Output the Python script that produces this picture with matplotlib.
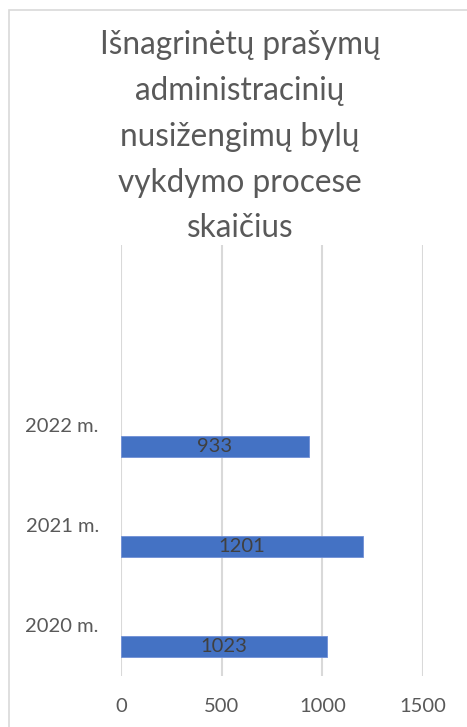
import numpy as np
import matplotlib.pyplot as plt
from matplotlib.patches import Rectangle

years = ["2020 m.", "2021 m.", "2022 m."]
values = [1023, 1201, 933]
xticks = [0, 500, 1000, 1500]
title = "Išnagrinėtų prašymų\nadministracinių\nnusižengimų bylų\nvykdymo procese\nskaičius"

plt.rcParams['font.family'] = ['Lato', 'DejaVu Sans']
txt = '#595959'

fig = plt.figure(figsize=(4.67, 7.27), dpi=100)
ax = fig.add_axes([121 / 467, 51 / 727, 302 / 467, 431 / 727])

pos = np.arange(len(years))
bars = ax.barh(pos, values, height=0.21, color='#4472C4', edgecolor='#6F8FD6', linewidth=0.6, zorder=3)
for b, v in zip(bars, values):
    ax.text(b.get_x() + b.get_width() / 2, b.get_y() + b.get_height() / 2, str(v),
            ha='center', va='center', fontsize=14.5, color='#404040', zorder=4)

ax.set_xlim(0, 1500)
ax.set_ylim(-0.3, 4.015)
ax.set_xticks(xticks)
ax.set_xticklabels([str(t) for t in xticks])
ax.set_yticks(pos + 0.21)
ax.set_yticklabels(years)
ax.tick_params(axis='both', length=0, labelsize=14.5, labelcolor=txt)
ax.tick_params(axis='x', pad=16)
ax.tick_params(axis='y', pad=16)
ax.grid(axis='x', color='#D9D9D9', linewidth=1.5, zorder=0)
for s in ax.spines.values():
    s.set_visible(False)

fig.text(240 / 467, 1 - 30 / 727, title, ha='center', va='top', fontsize=22.7,
         color=txt, linespacing=1.66)

fig.patches.append(Rectangle((9 / 467, -0.1), 1.2, 1.1 + (1 - 10 / 727) - 1,
                             transform=fig.transFigure, fill=False,
                             edgecolor='#D9D9D9', linewidth=1.2))

fig.savefig('out.png', dpi=100)
